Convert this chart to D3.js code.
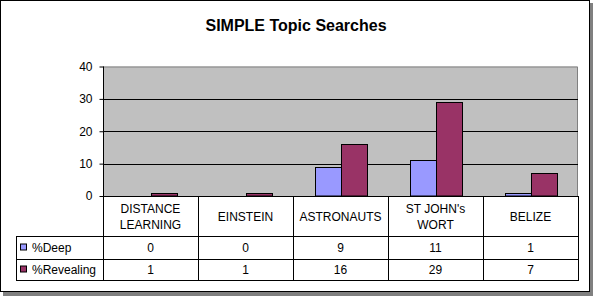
<!DOCTYPE html>
<html lang="en">
<head>
<meta charset="utf-8">
<title>SIMPLE Topic Searches</title>
<style>
  body { margin: 0; background: #fff; }
  svg { display: block; font-family: "Liberation Sans", Arial, sans-serif; }
  .axis path { stroke: #000; }
  .axis line { stroke: #000; }
  .axis text { font-size: 12px; fill: #000; }
</style>
<script src="https://d3js.org/d3.v7.min.js"></script>
</head>
<body>
<script>
// data
const categories = [["DISTANCE", "LEARNING"], ["EINSTEIN"], ["ASTRONAUTS"], ["ST JOHN's", "WORT"], ["BELIZE"]];
const seriesNames = ["%Deep", "%Revealing"];
const deep = [0, 0, 9, 11, 1];
const revealing = [1, 1, 16, 29, 7];
const yTicks = [0, 10, 20, 30, 40];
const colors = ["#9999FF", "#993366"];

const width = 594, height = 297;
const plot = { left: 103, right: 578, top: 66.5, bottom: 196 };
const rowTop = [196, 236, 259, 280];
const tableLeft = 16.5;

const svg = d3.select("body").append("svg")
  .attr("width", width)
  .attr("height", height);

// outer frame with shadow
svg.append("rect").attr("x", 3).attr("y", 3).attr("width", 590).attr("height", 293).attr("fill", "#808080");
svg.append("rect").attr("x", 0.5).attr("y", 0.5).attr("width", 589).attr("height", 291)
  .attr("fill", "#fff").attr("stroke", "#000");

svg.append("text")
  .attr("x", 296).attr("y", 31)
  .attr("text-anchor", "middle")
  .style("font-size", "16px").style("font-weight", "bold")
  .text("SIMPLE Topic Searches");

const x = d3.scaleBand()
  .domain(d3.range(categories.length))
  .range([plot.left, plot.right])
  .paddingInner(0).paddingOuter(0);

const y = d3.scaleLinear().domain([0, 40]).range([plot.bottom, plot.top]);

const inner = d3.scaleBand().domain([0, 1]).range([-26, 26]);

// plot area
svg.append("rect")
  .attr("x", plot.left).attr("y", plot.top)
  .attr("width", plot.right - plot.left).attr("height", plot.bottom - plot.top)
  .attr("fill", "#C0C0C0");
svg.append("path")
  .attr("d", `M${plot.left},${plot.top + 0.5}H${plot.right - 0.5}V${plot.bottom}`)
  .attr("fill", "none").attr("stroke", "#808080");

// gridlines
svg.append("g").selectAll("line")
  .data(yTicks.filter(t => t > 0 && t < 40))
  .join("line")
  .attr("x1", plot.left).attr("x2", plot.right)
  .attr("y1", d => Math.round(y(d)) + 0.5).attr("y2", d => Math.round(y(d)) + 0.5)
  .attr("stroke", "#000");

// bars
const values = [deep, revealing];
values.forEach((vals, s) => {
  svg.append("g").selectAll("rect")
    .data(vals.map((v, i) => ({ v, i })).filter(d => d.v > 0))
    .join("rect")
    .attr("x", d => Math.round(x(d.i) + x.bandwidth() / 2 + inner(s)) + 0.5)
    .attr("width", inner.bandwidth())
    .attr("y", d => Math.round(y(d.v)) + 0.5)
    .attr("height", d => plot.bottom - Math.round(y(d.v)) - 0.5)
    .attr("fill", colors[s]).attr("stroke", "#000");
});

// y axis
svg.append("g")
  .attr("class", "axis")
  .attr("transform", `translate(${plot.left + 0.5},0)`)
  .call(d3.axisLeft(y).tickValues(yTicks).tickSize(4).tickPadding(7).tickSizeOuter(0))
  .call(g => g.select(".domain").attr("d", `M0,${plot.top}V${plot.bottom}`))
  .call(g => g.selectAll(".tick line").attr("transform", "translate(0,0)"));

// data table
const table = svg.append("g").attr("stroke", "#000").attr("fill", "none");
// horizontal lines
table.append("line").attr("x1", plot.left).attr("x2", plot.right).attr("y1", rowTop[0] + 0.5).attr("y2", rowTop[0] + 0.5);
[1, 2, 3].forEach(r => {
  table.append("line").attr("x1", tableLeft).attr("x2", plot.right)
    .attr("y1", rowTop[r] + 0.5).attr("y2", rowTop[r] + 0.5);
});
// vertical lines
table.append("line").attr("x1", tableLeft).attr("x2", tableLeft).attr("y1", rowTop[1]).attr("y2", rowTop[3] + 1);
d3.range(categories.length + 1).forEach(i => {
  const xv = Math.round(i < categories.length ? x(i) : plot.right) + 0.5;
  table.append("line").attr("x1", xv).attr("x2", xv).attr("y1", rowTop[0]).attr("y2", rowTop[3] + 1);
});

// category labels
categories.forEach((lines, i) => {
  const cx = x(i) + x.bandwidth() / 2;
  const mid = (rowTop[0] + rowTop[1]) / 2;
  lines.forEach((t, k) => {
    svg.append("text")
      .attr("x", cx)
      .attr("y", mid + 4.5 + (k - (lines.length - 1) / 2) * 16)
      .attr("text-anchor", "middle")
      .style("font-size", "12px")
      .text(t);
  });
});

// series rows
values.forEach((vals, s) => {
  const mid = (rowTop[s + 1] + rowTop[s + 2]) / 2;
  svg.append("rect")
    .attr("x", 20.5).attr("y", mid - 3.5)
    .attr("width", 6).attr("height", 6)
    .attr("fill", colors[s]).attr("stroke", "#000");
  svg.append("text")
    .attr("x", 32).attr("y", mid + 4.5)
    .style("font-size", "12px")
    .text(seriesNames[s]);
  vals.forEach((v, i) => {
    svg.append("text")
      .attr("x", x(i) + x.bandwidth() / 2)
      .attr("y", mid + 4.5)
      .attr("text-anchor", "middle")
      .style("font-size", "12px")
      .text(v);
  });
});
</script>
</body>
</html>
